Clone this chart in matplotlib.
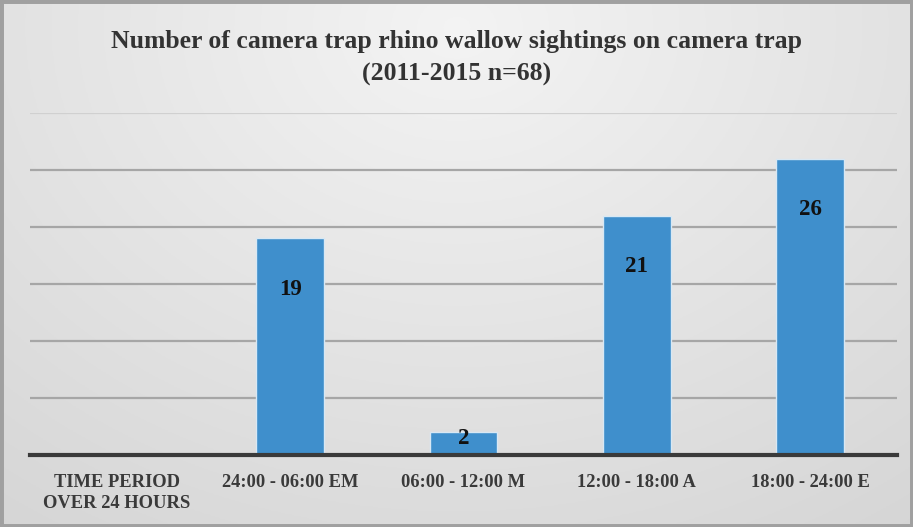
import numpy as np
import matplotlib
matplotlib.use("Agg")
import matplotlib.pyplot as plt
from matplotlib.patches import Rectangle

categories = ["TIME PERIOD\nOVER 24 HOURS", "24:00 - 06:00 EM", "06:00 - 12:00 M",
              "12:00 - 18:00 A", "18:00 - 24:00 E"]
values = [0, 19, 2, 21, 26]
title = "Number of camera trap rhino wallow sightings on camera trap\n(2011-2015 n=68)"

W, H = 913, 527
fig = plt.figure(figsize=(W / 100, H / 100), dpi=100)

# background gradient
bg = fig.add_axes([0, 0, 1, 1])
yy, xx = np.mgrid[0:1:200j, 0:1:300j]
d = np.sqrt(((xx - 0.5) / 0.95) ** 2 + ((yy - 0.05) / 1.3) ** 2)
g = 0.955 - 0.13 * np.clip(d, 0, 1)
img = np.dstack([g, g, g])
bg.imshow(img, extent=[0, 1, 0, 1], aspect="auto", origin="upper")
bg.add_patch(Rectangle((0, 0), 1, 1, transform=bg.transAxes, fill=False,
                       edgecolor="#a0a0a0", linewidth=5))
bg.set_axis_off()

ax = fig.add_axes([30 / W, (H - 455) / H, 867 / W, (455 - 113) / H])
ax.set_facecolor("none")
x = np.arange(len(categories))
bars = ax.bar(x, values, width=0.39, color="#3f8fcc", edgecolor="#d8e8f4",
              linewidth=1.0, zorder=3)
ax.set_xlim(-0.5, len(categories) - 0.5)
ax.set_ylim(0, 30)
ax.set_yticks(np.arange(0, 31, 5))
ax.yaxis.grid(True, color="#a6a6a6", linewidth=1.6, zorder=0)
ax.get_ygridlines()[-1].set_color("#d0d0d0")
ax.set_axisbelow(True)
ax.tick_params(axis="y", left=False, labelleft=False)
ax.tick_params(axis="x", bottom=False, pad=10)
for s in ["top", "right", "left"]:
    ax.spines[s].set_visible(False)
ax.spines["bottom"].set_color("#3a3a3a")
ax.spines["bottom"].set_linewidth(3)
ax.spines["bottom"].set_zorder(4)
ax.set_xticks(x)
ax.set_xticklabels(categories, fontfamily="Liberation Serif", fontweight="bold",
                   fontsize=13.3, color="#3a3a3a", linespacing=1.35)

for xi, v in zip(x, values):
    if v <= 0:
        continue
    off = -37 if v >= 5 else -4.5
    ax.annotate(str(v), (xi, v), xytext=(0, off), textcoords="offset points",
                ha="center", va="center", fontfamily="Liberation Serif",
                fontweight="bold", fontsize=16.5, color="#111111", zorder=5)

fig.text(0.5, 1 - 58 / H, title, ha="center", va="center",
         fontfamily="Liberation Serif", fontweight="bold", fontsize=18.5,
         color="#333333", linespacing=1.5)

fig.savefig("out.png", dpi=100)
